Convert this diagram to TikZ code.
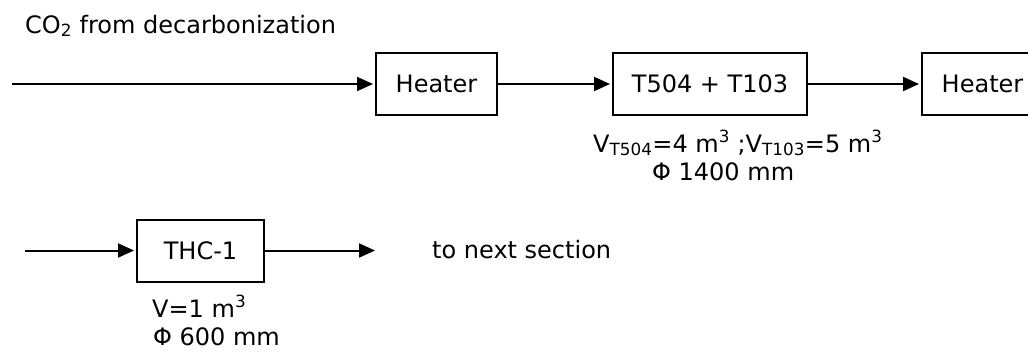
\documentclass[tikz,border=0pt]{standalone}
\usepackage{fontspec}
\setmainfont{DejaVu Sans}
\usetikzlibrary{arrows.meta}

\begin{document}
\begin{tikzpicture}[
  x=1pt, y=-1pt,
  font=\fontsize{24}{28}\selectfont,
  unit/.style={rectangle, draw, line width=2pt, minimum width=#1, minimum height=62pt, inner sep=0pt},
  note/.style={anchor=base west, inner sep=0pt},
  arr/.style={-{Triangle[length=16pt, width=14pt]}, line width=2pt, shorten >=2pt},
]
  \clip (0, 0) rectangle (1028, 351);

  % CO2 feed
  \node[note] (co2) at (25, 33) {CO\textsubscript{2} from decarbonization};
  \coordinate (feed) at (12, 84);

  % First line: heater, tanks, heater
  \node[unit=121pt] (heat1) at (436.5, 84) {Heater};
  \node[unit=194pt] (tank) at (710, 84) {T504 + T103};
  \node[unit=121pt] (heat2) at (982.5, 84) {Heater};

  % Tank data
  \node[note] (tankvol) at (593, 152) {V\textsubscript{T504}=4 m\textsuperscript{3} ;V\textsubscript{T103}=5 m\textsuperscript{3}};
  \node[note] (tankdia) at (652, 180) {Φ 1400 mm};

  % Second line: THC-1
  \coordinate (feed2) at (25, 250.5);
  \node[unit=127pt] (thc) at (200.5, 250.5) {THC-1};
  \coordinate (out) at (377, 250.5);
  \node[note] (next) at (432, 258) {to next section};

  % THC-1 data
  \node[note] (thcvol) at (152, 317) {V=1 m\textsuperscript{3}};
  \node[note] (thcdia) at (153, 345) {Φ 600 mm};

  % Arrows
  \draw[arr] (feed) -- (heat1);
  \draw[arr] (heat1) -- (tank);
  \draw[arr] (tank) -- (heat2);
  \draw[arr] (feed2) -- (thc);
  \draw[arr] (thc) -- (out);
\end{tikzpicture}
\end{document}
